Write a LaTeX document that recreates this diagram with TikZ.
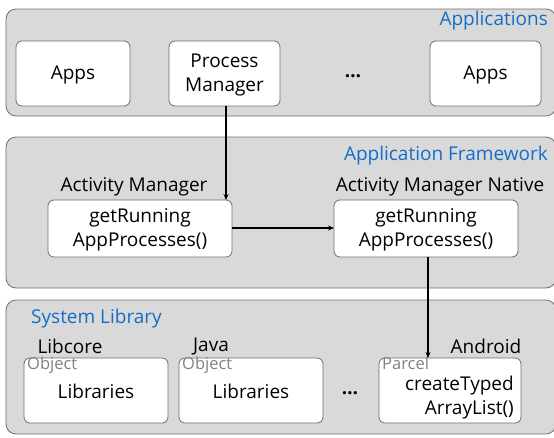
\documentclass[tikz,border=0pt]{standalone}
\usepackage{fontspec}
\setmainfont{Open Sans}
\usetikzlibrary{arrows.meta}
\definecolor{panelfill}{RGB}{217,217,217}
\definecolor{edgegray}{RGB}{110,110,110}
\definecolor{titleblue}{RGB}{20,110,200}
\definecolor{hintgray}{RGB}{130,130,130}
\tikzset{
  panel/.style={draw=edgegray, fill=panelfill, rounded corners=10pt, line width=0.8pt},
  box/.style={draw=edgegray, fill=white, rounded corners=6pt, line width=0.8pt},
  title/.style={text=titleblue, font=\fontsize{19}{22}\selectfont, inner sep=0pt},
  lbl/.style={font=\fontsize{19}{23.5}\selectfont, inner sep=0pt, align=center},
  dotsym/.style={font=\fontsize{19}{22}\selectfont\bfseries, inner sep=0pt},
  hint/.style={text=hintgray, font=\fontsize{16.5}{18}\selectfont, inner sep=0pt, anchor=north west},
  link/.style={-{Stealth[length=6pt,width=5pt]}, line width=1.3pt}
}
\begin{document}
\begin{tikzpicture}[x=1pt,y=-1pt]
\useasboundingbox (0,0) rectangle (554,437);
% layer panels
\draw[panel] (6,9) rectangle (556,116);
\draw[panel] (6,137) rectangle (556,288);
\draw[panel] (6,300) rectangle (556,434);
\node[title, anchor=east] (tapp) at (548,21) {Applications};
\node[title, anchor=east] (tfw) at (548,156) {Application Framework};
\node[title, anchor=west] (tlib) at (31,319) {System Library};
% applications layer
\draw[box] (16,41) rectangle (130,106);
\node[lbl] (apps1) at (73,75) {Apps};
\draw[box] (169,41) rectangle (280,106);
\node[lbl] (pm) at (224.5,75) {Process\\Manager};
\coordinate (pmb) at (226,106);
\node[dotsym] (dots1) at (353,76) {…};
\draw[box] (430,41) rectangle (541,106);
\node[lbl] (apps2) at (485.5,75) {Apps};
% framework layer
\node[lbl] (am) at (134,187) {Activity Manager};
\node[lbl] (amn) at (440,187) {Activity Manager Native};
\draw[box] (48,200) rectangle (232,257);
\node[lbl] (am1) at (140,230) {getRunning\\AppProcesses()};
\coordinate (am1t) at (226,200);
\coordinate (am1r) at (232,228);
\draw[box] (334,200) rectangle (518,257);
\node[lbl] (amn1) at (426,230) {getRunning\\AppProcesses()};
\coordinate (amn1l) at (334,228);
\coordinate (amn1b) at (428,257);
% library layer
\node[lbl] (libcore) at (70,346) {Libcore};
\node[lbl] (java) at (211,346) {Java};
\node[lbl] (android) at (486,346) {Android};
\draw[box] (24,358) rectangle (168,423);
\node[hint] (o1) at (27,357) {Object};
\node[lbl] (l1) at (96,391.5) {Libraries};
\draw[box] (179,358) rectangle (323,423);
\node[hint] (o2) at (182,357) {Object};
\node[lbl] (l2) at (251,391.5) {Libraries};
\node[dotsym] (dots2) at (350,393) {…};
\draw[box] (379,358) rectangle (521,423);
\node[hint] (parcel) at (382,357) {Parcel};
\node[lbl, anchor=east] (ct) at (514,386) {createTyped};
\node[lbl, anchor=east] (al) at (514,410) {ArrayList()};
\coordinate (pt) at (428,358);
% call chain
\draw[link] (pmb) -- (am1t);
\draw[link] (am1r) -- (amn1l);
\draw[link] (amn1b) -- (pt);
\end{tikzpicture}
\end{document}
